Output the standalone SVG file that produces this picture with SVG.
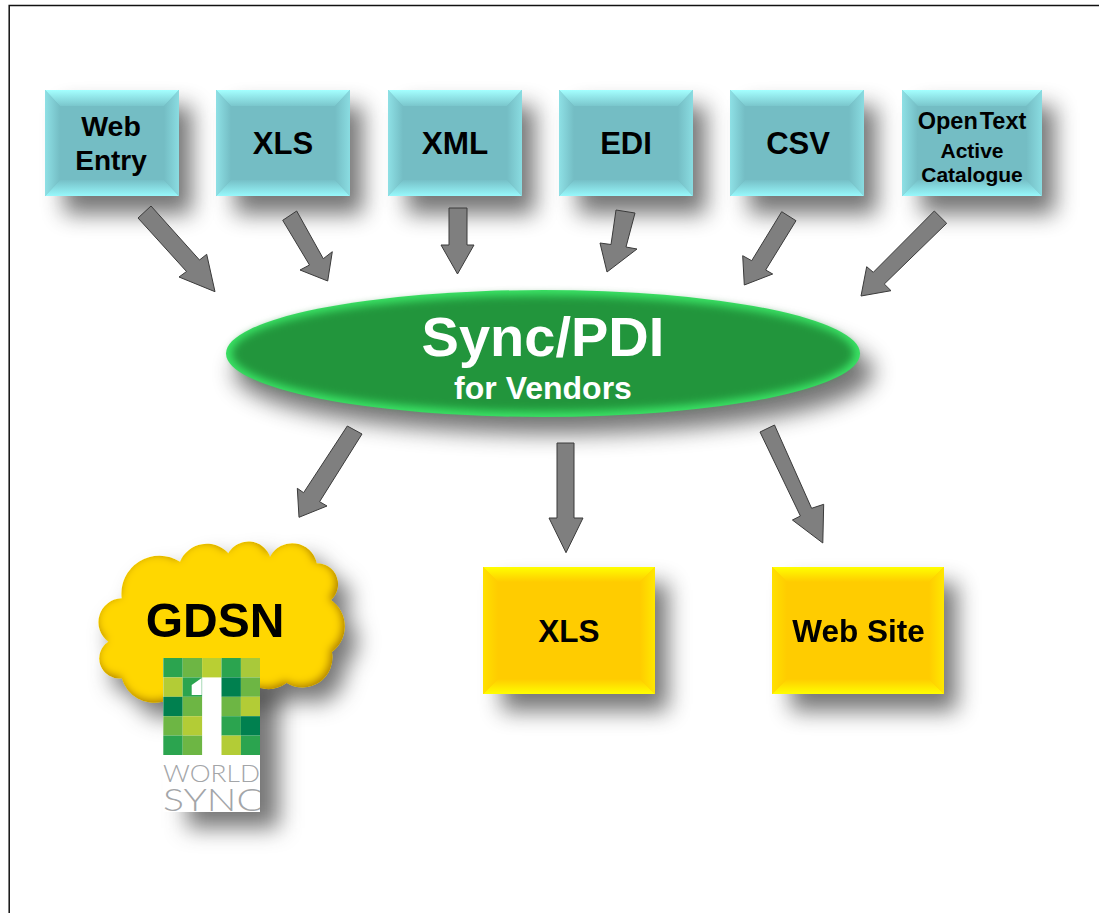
<svg xmlns="http://www.w3.org/2000/svg" width="1099" height="913" viewBox="0 0 1099 913">
<style>
text{font-family:"Liberation Sans",Arial,sans-serif;font-weight:700;text-anchor:middle;fill:#000}
.arrow{fill:#7f7f7f;stroke:#3a3a3a;stroke-width:1;stroke-linejoin:miter}
.shadow{fill:#222;opacity:.62}
.wl{font-family:Lato,"Liberation Sans",sans-serif;font-weight:300;fill:#a3a5a8;text-anchor:start}
</style>
<defs>
<filter id="b7" filterUnits="userSpaceOnUse" x="0" y="0" width="1099" height="913" color-interpolation-filters="sRGB"><feGaussianBlur stdDeviation="11"/></filter>
<filter id="b3" filterUnits="userSpaceOnUse" x="200" y="270" width="700" height="170" color-interpolation-filters="sRGB"><feGaussianBlur stdDeviation="4"/></filter>
<filter id="cloudfx" filterUnits="userSpaceOnUse" x="80" y="520" width="300" height="200" color-interpolation-filters="sRGB">
<feGaussianBlur in="SourceAlpha" stdDeviation="4" result="a"/>
<feOffset in="a" dx="-2" dy="-2" result="a2"/>
<feComposite in="SourceAlpha" in2="a2" operator="arithmetic" k2="1" k3="-1" result="edge"/>
<feFlood flood-color="#a87a00"/><feComposite in2="edge" operator="in" result="d1"/>
<feComposite in="d1" in2="SourceAlpha" operator="in" result="dark"/>
<feMerge><feMergeNode in="SourceGraphic"/><feMergeNode in="dark"/></feMerge>
</filter>
<linearGradient id="tt" x1="0" y1="0" x2="0" y2="1"><stop offset="0" stop-color="#a4ffff"/><stop offset="1" stop-color="#7ac6cc"/></linearGradient>
<linearGradient id="tb" x1="0" y1="1" x2="0" y2="0"><stop offset="0" stop-color="#98f8fb"/><stop offset="1" stop-color="#76c0c7"/></linearGradient>
<linearGradient id="tl" x1="0" y1="0" x2="1" y2="0"><stop offset="0" stop-color="#8ee0e5"/><stop offset="1" stop-color="#74bdc4"/></linearGradient>
<linearGradient id="tr" x1="1" y1="0" x2="0" y2="0"><stop offset="0" stop-color="#8adce1"/><stop offset="1" stop-color="#74bdc4"/></linearGradient>
<linearGradient id="gt" x1="0" y1="0" x2="0" y2="1"><stop offset="0" stop-color="#ffff00"/><stop offset="1" stop-color="#ffcc00"/></linearGradient>
<linearGradient id="gb" x1="0" y1="1" x2="0" y2="0"><stop offset="0" stop-color="#ffff00"/><stop offset="1" stop-color="#ffcc00"/></linearGradient>
<linearGradient id="gl" x1="0" y1="0" x2="1" y2="0"><stop offset="0" stop-color="#ffe000"/><stop offset="1" stop-color="#ffcc00"/></linearGradient>
<linearGradient id="gr" x1="1" y1="0" x2="0" y2="0"><stop offset="0" stop-color="#ffe800"/><stop offset="1" stop-color="#ffcc00"/></linearGradient>
<g id="teal">
<rect width="134" height="106" fill="#74bdc4"/>
<polygon points="0,0 134,0 119,16 15,16" fill="url(#tt)"/>
<polygon points="0,106 134,106 119,90 15,90" fill="url(#tb)"/>
<polygon points="0,0 15,16 15,90 0,106" fill="url(#tl)"/>
<polygon points="134,0 119,16 119,90 134,106" fill="url(#tr)"/>
</g>
<g id="gold">
<rect width="172" height="127" fill="#ffcc00"/>
<polygon points="0,0 172,0 157,15 15,15" fill="url(#gt)"/>
<polygon points="0,127 172,127 157,112 15,112" fill="url(#gb)"/>
<polygon points="0,0 15,15 15,112 0,127" fill="url(#gl)"/>
<polygon points="172,0 157,15 157,112 172,127" fill="url(#gr)"/>
</g>
<path id="cloud" d="M121.700,598.300A38,38 0 0 1 180,561.700A29,29 0 0 1 228.300,553.300A23,23 0 0 1 270,556.700A25,25 0 0 1 316.700,563.300A21,21 0 0 1 331,600A32,32 0 0 1 332,652A30,30 0 0 1 286.700,683A32,32 0 0 1 260,688L163,701.700A34,34 0 0 1 121.700,678.300A20,20 0 0 1 108.300,641.700A24,24 0 0 1 121.700,598.300Z"/>
<clipPath id="logoclip"><rect x="163" y="658" width="97" height="154"/></clipPath>
</defs>
<rect width="1099" height="913" fill="#fff"/>
<path d="M9.200 913V5.500H1099" fill="none" stroke="#111" stroke-width="1.500"/>

<g id="node-web-entry"><rect class="shadow" filter="url(#b7)" x="64" y="106" width="128" height="108"/><use href="#teal" x="45" y="90"/><text x="111" y="136" font-size="28.500">Web</text><text x="111" y="169.500" font-size="28">Entry</text></g>
<g id="node-xls-in"><rect class="shadow" filter="url(#b7)" x="235" y="106" width="128" height="108"/><use href="#teal" x="216" y="90"/><text x="283" y="153.500" font-size="31">XLS</text></g>
<g id="node-xml"><rect class="shadow" filter="url(#b7)" x="407" y="106" width="128" height="108"/><use href="#teal" x="388" y="90"/><text x="455" y="153.500" font-size="31.500">XML</text></g>
<g id="node-edi"><rect class="shadow" filter="url(#b7)" x="578" y="106" width="128" height="108"/><use href="#teal" x="559" y="90"/><text x="626" y="153.500" font-size="31">EDI</text></g>
<g id="node-csv"><rect class="shadow" filter="url(#b7)" x="749" y="106" width="128" height="108"/><use href="#teal" x="730" y="90"/><text x="798" y="153.500" font-size="31">CSV</text></g>
<g id="node-opentext"><rect class="shadow" filter="url(#b7)" x="921" y="106" width="134" height="108"/><use href="#teal" transform="translate(902 90) scale(1.0448 1)"/><text x="972" y="129.300" font-size="23.500">Open<tspan dx="2">Text</tspan></text><text x="972" y="157.700" font-size="21">Active</text><text x="972" y="182" font-size="21">Catalogue</text></g>

<g id="node-sync">
<ellipse class="shadow" filter="url(#b7)" cx="554" cy="372" rx="320" ry="62"/>
<ellipse cx="543" cy="353.500" rx="317" ry="63.500" fill="#3be566"/>
<ellipse cx="543" cy="353.500" rx="311" ry="58" fill="#22953c" filter="url(#b3)"/>
<text x="543" y="355.500" font-size="56" style="fill:#fff">Sync/PDI</text>
<text x="543" y="399" font-size="32" style="fill:#fff">for Vendors</text>
</g>

<g id="node-gdsn">
<g filter="url(#b7)"><use href="#cloud" class="shadow" transform="translate(12 15)"/><rect class="shadow" x="187" y="690" width="92" height="138"/></g>
<use href="#cloud" filter="url(#cloudfx)" fill="#ffd700"/>
<text x="215" y="637.300" font-size="48">GDSN</text>
<g id="logo" clip-path="url(#logoclip)">
<rect x="163" y="658" width="97" height="154" fill="#fff"/>
<rect x="163.300" y="658" width="19.400" height="19.400" fill="#2ba44f"/><rect x="182.700" y="658" width="19.400" height="19.400" fill="#6db644"/><rect x="202.100" y="658" width="19.400" height="19.400" fill="#b9cf33"/><rect x="221.500" y="658" width="19.400" height="19.400" fill="#2ba44f"/><rect x="240.900" y="658" width="19.400" height="19.400" fill="#a9c93a"/>
<rect x="163.300" y="677.400" width="19.400" height="19.400" fill="#b3cc36"/><rect x="182.700" y="677.400" width="19.400" height="19.400" fill="#2ba44f"/><rect x="221.500" y="677.400" width="19.400" height="19.400" fill="#00804f"/><rect x="240.900" y="677.400" width="19.400" height="19.400" fill="#6db644"/>
<rect x="163.300" y="696.800" width="19.400" height="19.400" fill="#00804f"/><rect x="182.700" y="696.800" width="19.400" height="19.400" fill="#6db644"/><rect x="221.500" y="696.800" width="19.400" height="19.400" fill="#6db644"/><rect x="240.900" y="696.800" width="19.400" height="19.400" fill="#b3cc36"/>
<rect x="163.300" y="716.200" width="19.400" height="19.400" fill="#6db644"/><rect x="182.700" y="716.200" width="19.400" height="19.400" fill="#b3cc36"/><rect x="221.500" y="716.200" width="19.400" height="19.400" fill="#2ba44f"/><rect x="240.900" y="716.200" width="19.400" height="19.400" fill="#00804f"/>
<rect x="163.300" y="735.600" width="19.400" height="19.400" fill="#2ba44f"/><rect x="182.700" y="735.600" width="19.400" height="19.400" fill="#6db644"/><rect x="221.500" y="735.600" width="19.400" height="19.400" fill="#b3cc36"/><rect x="240.900" y="735.600" width="19.400" height="19.400" fill="#2ba44f"/>
<polygon points="201.700,678 191.700,685 191.700,695 201.700,695" fill="#fff"/>
<text class="wl" x="163" y="781.500" font-size="23" textLength="97" lengthAdjust="spacingAndGlyphs">WORLD</text>
<text class="wl" x="163" y="811" font-size="32" textLength="100" lengthAdjust="spacingAndGlyphs">SYNC</text>
</g>
</g>

<g id="node-xls-out"><rect class="shadow" filter="url(#b7)" x="502" y="583" width="166" height="128"/><use href="#gold" x="483" y="567"/><text x="569" y="642" font-size="31.500">XLS</text></g>
<g id="node-website"><rect class="shadow" filter="url(#b7)" x="791" y="583" width="166" height="128"/><use href="#gold" x="772" y="567"/><text x="858.500" y="642" font-size="31.500">Web Site</text></g>

<g id="connectors">
<polygon class="arrow" points="151,206 199.500,260 206.700,254.300 215,291.700 179,277 186.500,271.500 138,218"/>
<polygon class="arrow" points="296.700,211 323.300,258.700 332.300,251.700 327.700,281 300,270 309.500,265 282.700,220.300"/>
<polygon class="arrow" points="449,208 467,208 467,245 474,245 457.500,274 441,245 449,245"/>
<polygon class="arrow" points="616,210 635,213 626,247 637,249 607,272 600,243 611,244.500"/>
<polygon class="arrow" points="781.700,211.700 796,220.700 765.700,270 772.700,274 744.300,285 742.700,255.700 751.700,260.700"/>
<polygon class="arrow" points="934.300,211 946.700,223.300 884.300,284 891,290.700 861,296 866.700,266.700 873.300,272.300"/>
<polygon class="arrow" points="347.300,426 362,434 319.600,501.700 327,506 299,517.300 297.300,488.300 303.600,492.700"/>
<polygon class="arrow" points="557,443 574,443 574,518 583,518 566,552.700 549,518 557,518"/>
<polygon class="arrow" points="760,432 774.500,425 811.600,508.300 823.700,504.300 822.800,543 792.400,520 800.400,516"/>
</g>
</svg>
